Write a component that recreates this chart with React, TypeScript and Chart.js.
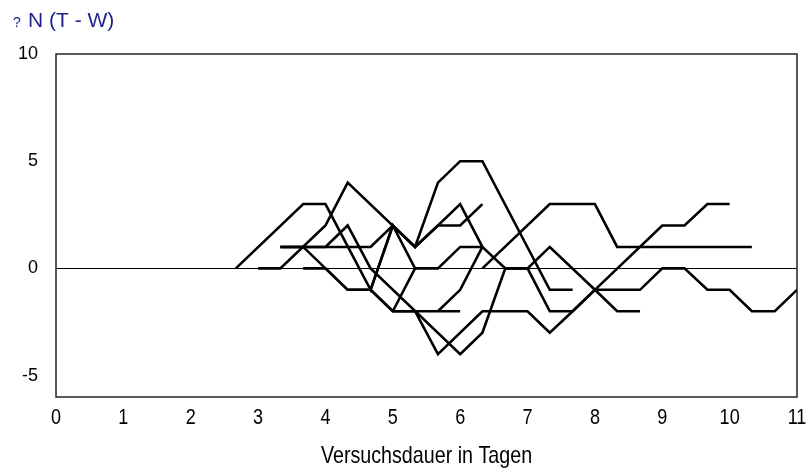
import { useEffect, useRef } from "react";
import { Chart, registerables } from "chart.js";

Chart.register(...registerables);

// Axis ticks
const dayTicks = [0, 1, 2, 3, 4, 5, 6, 7, 8, 9, 10, 11];
const deltaTicks = [-5, 0, 5, 10];

// Individual runs: test day (thirds of a day) and ΔN (T - W)
const daysA = [2.67, 3.67, 4, 4.67, 5, 5.33, 5.67, 6, 6.33];
const deltaA = [0, 3, 3, -1, 2, 1, 2, 2, 3];

const daysB = [3, 3.33, 4, 4.33, 5.33, 5.67, 6, 6.33, 7.33, 7.67];
const deltaB = [0, 0, 2, 4, 1, 4, 5, 5, -1, -1];

const daysC = [3.33, 4.67, 5, 5.33, 5.67, 6, 6.33, 6.67, 7, 7.33, 8, 8.33, 8.67];
const deltaC = [1, 1, 2, 1, 2, 3, 1, 0, 0, 1, -1, -2, -2];

const daysD = [3.33, 3.67, 4.33, 4.67, 5, 5.33, 5.67, 6.33, 7, 7.33, 7.67, 8, 9, 9.33, 9.67, 10];
const deltaD = [1, 1, -1, -1, -2, -2, -4, -2, -2, -3, -2, -1, 2, 2, 3, 3];

const daysE = [3.67, 4, 4.33, 4.67, 5, 6];
const deltaE = [0, 0, -1, -1, -2, -2];

const daysF = [3.33, 4, 4.33, 4.67, 6, 6.33, 6.67, 7, 7.33, 7.67, 8, 8.67, 9, 9.33, 9.67, 10, 10.33, 10.67, 11];
const deltaF = [1, 1, 2, 0, -4, -3, 0, 0, -2, -2, -1, -1, 0, 0, -1, -1, -2, -2, -1];

const daysG = [5, 5.33, 5.67, 6, 6.33];
const deltaG = [-2, 0, 0, 1, 1];

const daysH = [4.67, 5, 5.33];
const deltaH = [-1, 2, 0];

const daysI = [5.67, 6, 6.33];
const deltaI = [-2, -1, 1];

const daysJ = [6.33, 7.33, 8, 8.33, 10.33];
const deltaJ = [0, 3, 3, 1, 1];

const runs: [number[], number[]][] = [
  [daysA, deltaA],
  [daysB, deltaB],
  [daysC, deltaC],
  [daysD, deltaD],
  [daysE, deltaE],
  [daysF, deltaF],
  [daysG, deltaG],
  [daysH, deltaH],
  [daysI, deltaI],
  [daysJ, deltaJ],
];

const yAxisTitle = "N (T - W)";
const xAxisTitle = "Versuchsdauer in Tagen";

const SANS = "'Liberation Sans', Arial, Helvetica, sans-serif";
const NARROW = 0.82; // horizontal squeeze for the condensed x-axis lettering

const framePlugin = {
  id: "frame",
  beforeDatasetsDraw(chart: any) {
    const { ctx, chartArea: a, scales } = chart;
    const y0 = Math.round(scales.y.getPixelForValue(0)) + 0.5;
    ctx.save();
    ctx.strokeStyle = "#000";
    ctx.lineWidth = 1;
    ctx.beginPath();
    ctx.moveTo(a.left, y0);
    ctx.lineTo(a.right, y0);
    ctx.stroke();
    ctx.restore();
  },
  afterDatasetsDraw(chart: any) {
    const { ctx, chartArea: a } = chart;
    ctx.save();
    ctx.strokeStyle = "#222";
    ctx.lineWidth = 1.5;
    ctx.strokeRect(a.left, a.top, a.right - a.left, a.bottom - a.top);
    ctx.restore();
  },
  afterDraw(chart: any) {
    const { ctx, chartArea: a, scales } = chart;
    ctx.save();
    // y-axis heading
    ctx.fillStyle = "#1f1f8c";
    ctx.textBaseline = "alphabetic";
    ctx.textAlign = "left";
    ctx.font = `14px ${SANS}`;
    ctx.fillText("?", 13, 27);
    ctx.font = `21px ${SANS}`;
    ctx.fillText(yAxisTitle, 28, 27);

    // x tick labels and axis title in condensed lettering
    ctx.fillStyle = "#000";
    ctx.textAlign = "center";
    ctx.font = `22px ${SANS}`;
    dayTicks.forEach((v) => {
      const px = scales.x.getPixelForValue(v);
      ctx.save();
      ctx.translate(px, a.bottom + 27);
      ctx.scale(NARROW, 1);
      ctx.fillText(String(v), 0, 0);
      ctx.restore();
    });
    ctx.font = `24px ${SANS}`;
    ctx.save();
    ctx.translate((a.left + a.right) / 2, a.bottom + 66);
    ctx.scale(NARROW, 1);
    ctx.fillText(xAxisTitle, 0, 0);
    ctx.restore();
    ctx.restore();
  },
};

export default function App() {
  const canvasRef = useRef<HTMLCanvasElement | null>(null);

  useEffect(() => {
    const canvas = canvasRef.current;
    if (!canvas) return;
    const chart = new Chart(canvas, {
      type: "line",
      data: {
        datasets: runs.map(([xs, ys]) => ({
          data: xs.map((x, i) => ({ x, y: ys[i] })),
          borderColor: "#000",
          borderWidth: 2.6,
          borderJoinStyle: "miter" as const,
          pointRadius: 0,
          fill: false,
          tension: 0,
        })),
      },
      options: {
        responsive: false,
        animation: false,
        events: [],
        layout: { padding: { top: 54, right: 13, left: 0, bottom: 0 } },
        plugins: { legend: { display: false }, tooltip: { enabled: false }, title: { display: false } },
        scales: {
          x: {
            type: "linear",
            min: 0,
            max: 11,
            afterBuildTicks: (s: any) => {
              s.ticks = dayTicks.map((v) => ({ value: v }));
            },
            afterFit: (s: any) => {
              s.height = 74;
            },
            grid: { display: false, drawTicks: false },
            border: { display: false },
            ticks: { display: false },
            title: { display: false },
          },
          y: {
            type: "linear",
            min: -6,
            max: 10,
            afterBuildTicks: (s: any) => {
              s.ticks = deltaTicks.map((v) => ({ value: v }));
            },
            afterFit: (s: any) => {
              s.width = 56;
            },
            grid: { display: false, drawTicks: false },
            border: { display: false },
            ticks: {
              padding: 18,
              color: "#000",
              font: { family: SANS, size: 18 },
            },
          },
        },
      },
      plugins: [framePlugin],
    });
    return () => chart.destroy();
  }, []);

  return (
    <div style={{ position: "absolute", left: 0, top: 0, width: 810, height: 471, background: "#fff" }}>
      <canvas ref={canvasRef} width={810} height={471} style={{ display: "block" }} />
    </div>
  );
}
